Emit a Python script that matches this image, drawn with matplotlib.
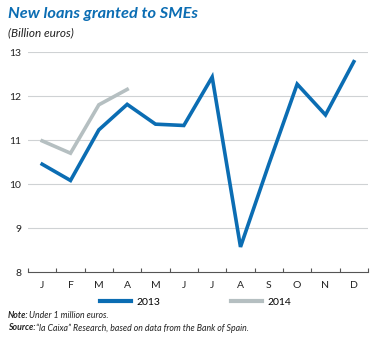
import matplotlib.pyplot as plt
import numpy as np

plt.rcParams['font.family'] = ['Lato', 'DejaVu Sans']

months = ['J', 'F', 'M', 'A', 'M', 'J', 'J', 'A', 'S', 'O', 'N', 'D']
loans_2013 = [10.45, 10.08, 11.23, 11.81, 11.36, 11.33, 12.43, 8.57, 10.45, 12.27, 11.57, 12.78]
loans_2014 = [10.98, 10.70, 11.80, 12.15]
yticks = [8, 9, 10, 11, 12, 13]

blue = '#0b6db3'
grey = '#b5bfc1'
dark = '#222222'
W, H = 378, 338

fig = plt.figure(figsize=(W / 100, H / 100), dpi=100)
ax = fig.add_axes([28 / W, 1 - 272 / H, 340 / W, 220 / H])

x = np.arange(len(months))
ax.plot(x, loans_2013, color=blue, lw=2.6, solid_joinstyle='miter', label='2013', zorder=3)
ax.plot(x[:len(loans_2014)], loans_2014, color=grey, lw=2.6, solid_joinstyle='miter', label='2014', zorder=2)

ax.set_xlim(-0.5, 11.5)
ax.set_ylim(8, 13)
ax.set_yticks(yticks)
ax.set_yticklabels([str(v) for v in yticks], fontsize=7.5, color=dark)
ax.tick_params(axis='y', length=0, pad=5)
for v in yticks[1:]:
    ax.axhline(v, color='#cfd2d4', lw=0.8, zorder=1)

# ticks between months, labels in the middle of each month
ax.set_xticks(np.arange(-0.5, 12, 1))
ax.set_xticklabels([])
ax.tick_params(axis='x', direction='in', length=3, color='#555555', width=0.8)
for i, m in enumerate(months):
    ax.text(i, 7.7, m, ha='center', va='center', fontsize=7.5, color=dark)

for s in ['top', 'right', 'left']:
    ax.spines[s].set_visible(False)
ax.spines['bottom'].set_color('#555555')
ax.spines['bottom'].set_linewidth(0.8)

leg = fig.legend(loc='center', bbox_to_anchor=(196 / W, 1 - 302 / H), ncol=2, frameon=False,
                 fontsize=7.5, handlelength=2.9, columnspacing=6.8, handletextpad=0.6)
for ln in leg.get_lines():
    ln.set_linewidth(3.0)

fig.text(8 / W, 1 - 14 / H, 'New loans granted to SMEs', color=blue, fontsize=11.8,
         fontweight='bold', fontstyle='italic', va='center')
fig.text(8 / W, 1 - 33 / H, '(Billion euros)', color=dark, fontsize=8.5,
         fontstyle='italic', va='center')

fig.text(8 / W, 1 - 316 / H, 'Note:', fontsize=6.3, fontweight='bold',
         fontstyle='italic', va='center', color=dark)
fig.text(29 / W, 1 - 316 / H, 'Under 1 million euros.', fontsize=6.3,
         fontstyle='italic', va='center', color=dark)
fig.text(8 / W, 1 - 328 / H, 'Source:', fontsize=6.3, fontweight='bold',
         fontstyle='italic', va='center', color=dark)
fig.text(36 / W, 1 - 328 / H, '\u201cla Caixa\u201d Research, based on data from the Bank of Spain.',
         fontsize=6.3, fontstyle='italic', va='center', color=dark)

fig.savefig('out.png', dpi=100)
